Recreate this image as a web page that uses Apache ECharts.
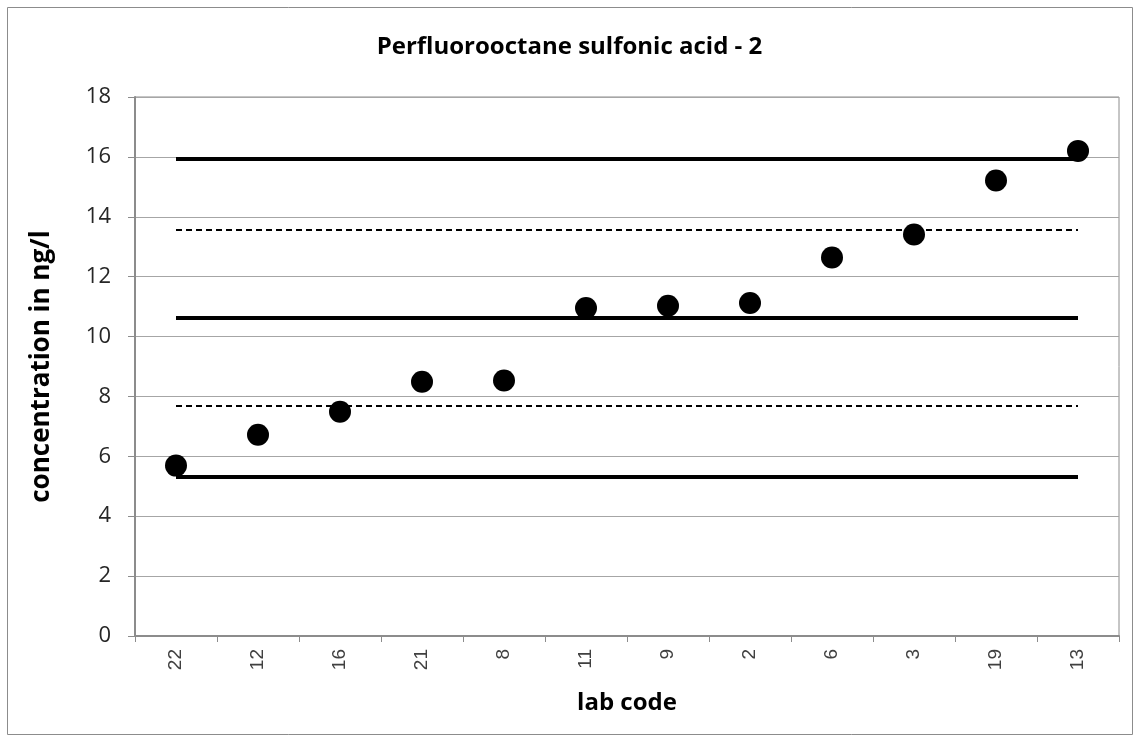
<!DOCTYPE html>
<html>
<head>
<meta charset="utf-8">
<script src="https://cdn.jsdelivr.net/npm/echarts@6/dist/echarts.min.js"></script>
<style>
* { margin: 0; padding: 0; }
body { background: #fff; }
#chart { width: 1139px; height: 742px; }
</style>
</head>
<body>
<div id="chart"></div>
<script>
// lab codes and measured values
const labCodes = ['22', '12', '16', '21', '8', '11', '9', '2', '6', '3', '19', '13'];
const concentrations = [5.69, 6.72, 7.49, 8.49, 8.53, 10.95, 11.03, 11.12, 12.64, 13.41, 15.21, 16.2];
// limits: solid = outer / assigned, dashed = inner
const solidLimits = [15.93, 10.62, 5.32];
const dashedLimits = [13.56, 7.69];

const fontFam = '"Open Sans", "Liberation Sans", sans-serif';

function limitLines(values) {
    return values.map(v => [
        { coord: [labCodes[0], v] },
        { coord: [labCodes[labCodes.length - 1], v] }
    ]);
}

const chart = echarts.init(document.getElementById('chart'));
chart.setOption({
    animation: false,
    title: {
        text: 'Perfluorooctane sulfonic acid - 2',
        left: 'center',
        top: 30,
        textStyle: { fontFamily: fontFam, fontSize: 24, fontWeight: 'bold', color: '#000' }
    },
    graphic: [{
        type: 'rect',
        shape: { x: 7.5, y: 7.5, width: 1125, height: 727 },
        style: { fill: 'none', stroke: '#8c8c8c', lineWidth: 1 },
        silent: true
    }],
    grid: {
        left: 135, right: 20, top: 97, bottom: 106,
        show: true, borderColor: '#8c8c8c', borderWidth: 1
    },
    xAxis: {
        type: 'category',
        data: labCodes,
        name: 'lab code',
        nameLocation: 'middle',
        nameGap: 55,
        nameTextStyle: { fontFamily: fontFam, fontSize: 24, fontWeight: 'bold', color: '#000' },
        axisLine: { lineStyle: { color: '#8c8c8c', width: 2 } },
        axisTick: { show: true, length: 6, lineStyle: { color: '#8c8c8c' } },
        axisLabel: { rotate: 90, fontFamily: '"Liberation Sans", Arial, sans-serif', fontSize: 19, color: '#404040', margin: 13 },
        splitLine: { show: false }
    },
    yAxis: {
        type: 'value',
        min: 0, max: 18, interval: 2,
        name: 'concentration in ng/l',
        nameLocation: 'middle',
        nameGap: 80,
        nameTextStyle: { fontFamily: fontFam, fontSize: 26, fontWeight: 'bold', color: '#000' },
        axisLine: { show: true, lineStyle: { color: '#8c8c8c', width: 2 } },
        axisTick: { show: true, length: 7, lineStyle: { color: '#8c8c8c' } },
        axisLabel: { fontFamily: fontFam, fontSize: 22, color: '#262626', margin: 24 },
        splitLine: { lineStyle: { color: '#a6a6a6', width: 1 } }
    },
    series: [
        {
            type: 'scatter',
            data: concentrations,
            symbol: 'circle',
            symbolSize: 22,
            itemStyle: { color: '#000', opacity: 1 },
            z: 5,
            markLine: {
                silent: true,
                symbol: 'none',
                label: { show: false },
                lineStyle: { color: '#000', width: 4, type: 'solid' },
                data: limitLines(solidLimits)
            }
        },
        {
            type: 'scatter',
            data: [],
            markLine: {
                silent: true,
                symbol: 'none',
                label: { show: false },
                lineStyle: { color: '#000', width: 2, type: [6, 4] },
                data: limitLines(dashedLimits)
            }
        }
    ]
});
</script>
</body>
</html>
